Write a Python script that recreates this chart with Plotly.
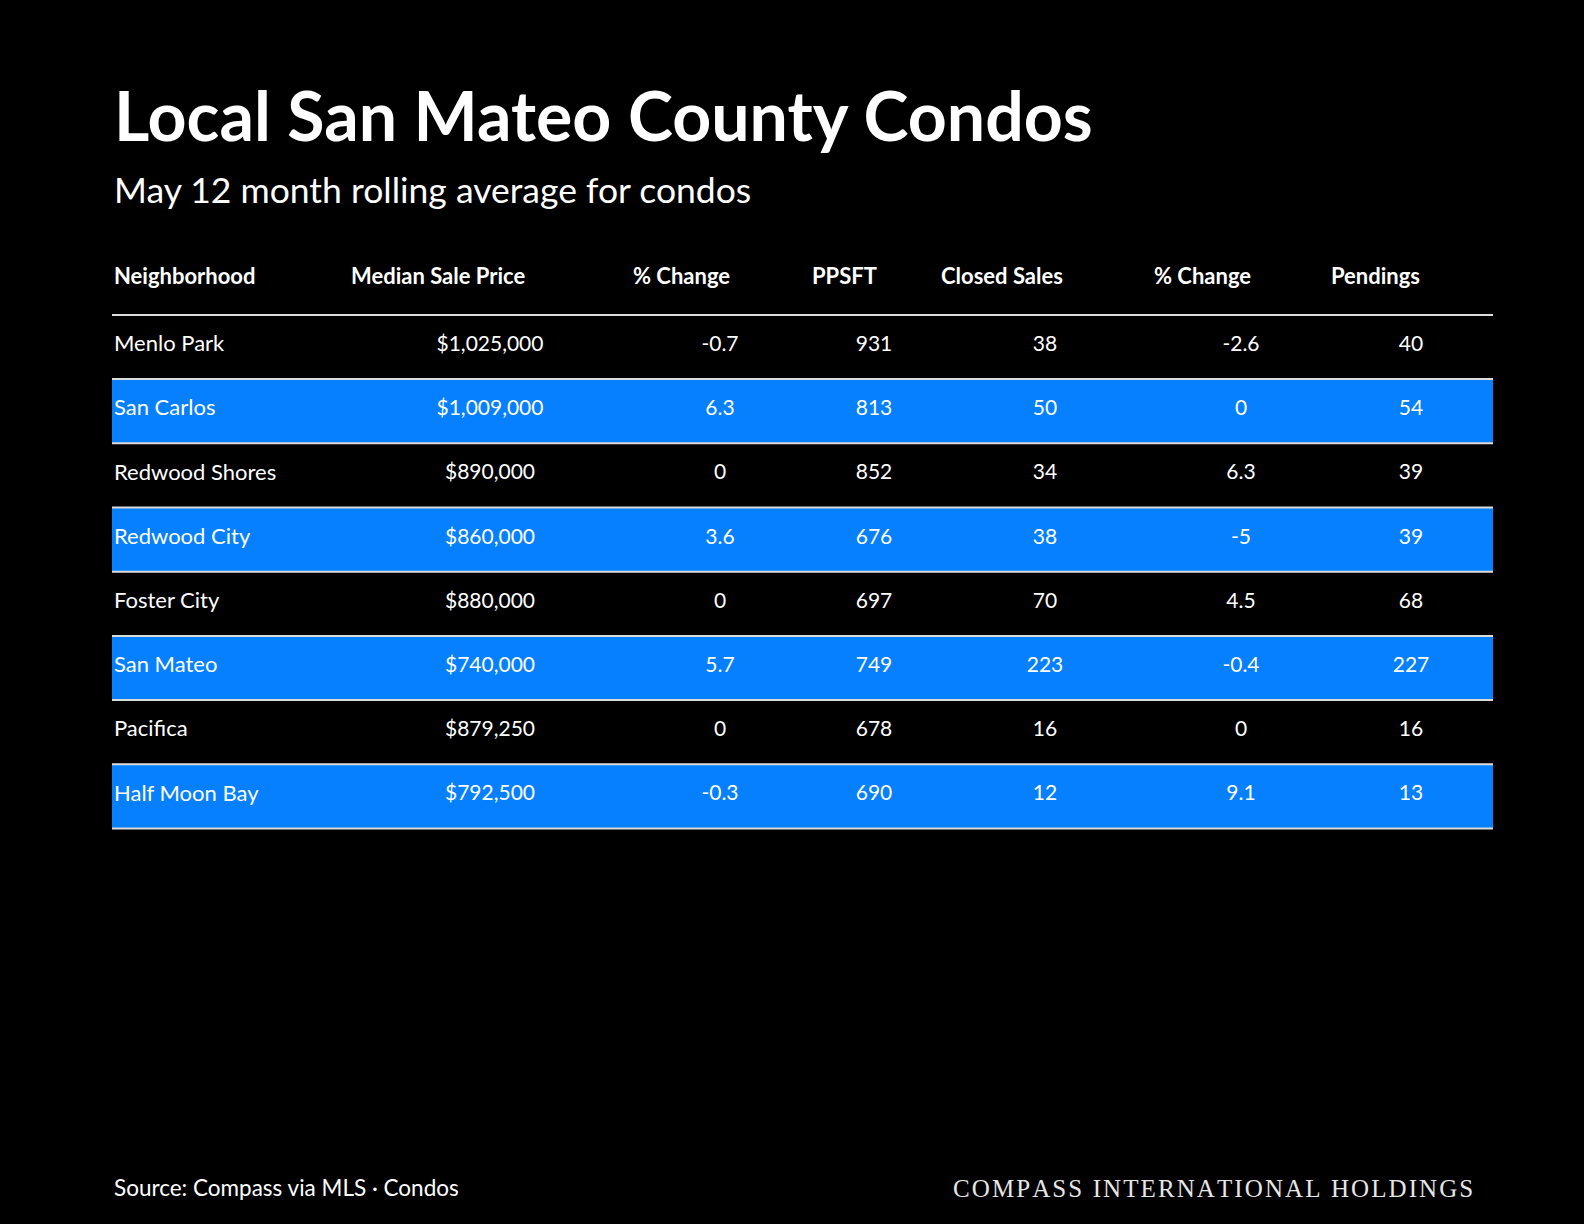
import plotly.graph_objects as go

# ---------------- data ----------------
neighborhoods = ["Menlo Park", "San Carlos", "Redwood Shores", "Redwood City",
                 "Foster City", "San Mateo", "Pacifica", "Half Moon Bay"]
median_sale_price = [1025000, 1009000, 890000, 860000, 880000, 740000, 879250, 792500]
price_pct_change = [-0.7, 6.3, 0, 3.6, 0, 5.7, 0, -0.3]
ppsft = [931, 813, 852, 676, 697, 749, 678, 690]
closed_sales = [38, 50, 34, 38, 70, 223, 16, 12]
sales_pct_change = [-2.6, 0, 6.3, -5, 4.5, -0.4, 0, 9.1]
pendings = [40, 54, 39, 39, 68, 227, 16, 13]
column_headers = ["Neighborhood", "Median Sale Price", "% Change", "PPSFT",
                  "Closed Sales", "% Change", "Pendings"]

title_text = "Local San Mateo County Condos"
subtitle_text = "May 12 month rolling average for condos"
source_text = "Source: Compass via MLS · Condos"
brand_text = "COMPASS INTERNATIONAL HOLDINGS"

# ---------------- layout constants ----------------
W, H = 1584, 1224
TABLE_LEFT, TABLE_RIGHT = 112, 1493
FIRST_ROW_CENTER = 347   # px from top
ROW_H = 64.2             # px per row
HEADER_ROW = -1.06       # header position in row units
TEXT_DY = -0.02          # small upward nudge of cell text, in row units
header_x = [114, 351, 633, 812, 941, 1154, 1331]
value_x = [114, 490, 720, 874, 1045, 1241, 1411]

BLUE = "#0680FF"
LINE = "#dcdcdc"
FONT = "Lato"
WHITE = "#ffffff"

def fmt_num(v):
    return f"{v:g}"

def spaced(s):
    # widen letter spacing with hair spaces
    return "\u200a".join(s)

columns = [
    neighborhoods,
    [f"${v:,}" for v in median_sale_price],
    [fmt_num(v) for v in price_pct_change],
    [fmt_num(v) for v in ppsft],
    [fmt_num(v) for v in closed_sales],
    [fmt_num(v) for v in sales_pct_change],
    [fmt_num(v) for v in pendings],
]
n = len(neighborhoods)
rows = list(range(n))

fig = go.Figure()

# cell text
for j, col in enumerate(columns):
    fig.add_trace(go.Scatter(
        x=[value_x[j]] * n, y=[r + TEXT_DY for r in rows], text=col, mode="text",
        textposition="middle right" if j == 0 else "middle center",
        textfont=dict(family=FONT, size=22 if j == 0 else 21, color=WHITE),
        hoverinfo="skip", showlegend=False,
    ))

# header text
fig.add_trace(go.Scatter(
    x=header_x, y=[HEADER_ROW] * len(column_headers), text=column_headers,
    mode="text", textposition="middle right",
    textfont=dict(family=FONT, size=22, color=WHITE, weight=700),
    hoverinfo="skip", showlegend=False,
))

shapes = []
for i in rows:
    if i % 2 == 1:
        shapes.append(dict(type="rect", xref="x", yref="y",
                           x0=TABLE_LEFT, x1=TABLE_RIGHT, y0=i - 0.5, y1=i + 0.5,
                           fillcolor=BLUE, line=dict(width=0), layer="below"))
for i in range(n + 1):
    shapes.append(dict(type="line", xref="x", yref="y",
                       x0=TABLE_LEFT, x1=TABLE_RIGHT, y0=i - 0.5, y1=i - 0.5,
                       line=dict(color=LINE, width=2), layer="below"))

def py(px):
    return 1 - px / H

annotations = [
    dict(text=title_text, x=TABLE_LEFT / W, y=py(114), xref="paper", yref="paper",
         xanchor="left", yanchor="middle", showarrow=False,
         font=dict(family=FONT, size=68, color=WHITE, weight=700)),
    dict(text=subtitle_text, x=TABLE_LEFT / W, y=py(189), xref="paper", yref="paper",
         xanchor="left", yanchor="middle", showarrow=False,
         font=dict(family=FONT, size=35.5, color=WHITE)),
    dict(text=source_text, x=TABLE_LEFT / W, y=py(1187), xref="paper", yref="paper",
         xanchor="left", yanchor="middle", showarrow=False,
         font=dict(family=FONT, size=22.5, color=WHITE)),
    dict(text=spaced(brand_text), x=1475 / W, y=py(1188), xref="paper", yref="paper",
         xanchor="right", yanchor="middle", showarrow=False,
         font=dict(family="Liberation Serif", size=25, color="#e6e6e6")),
]

fig.update_layout(
    width=W, height=H,
    margin=dict(l=0, r=0, t=0, b=0),
    paper_bgcolor="#000000", plot_bgcolor="#000000",
    xaxis=dict(range=[0, W], visible=False, fixedrange=True),
    yaxis=dict(range=[(H - FIRST_ROW_CENTER) / ROW_H, -FIRST_ROW_CENTER / ROW_H],
               visible=False, fixedrange=True),
    shapes=shapes, annotations=annotations,
)

fig.write_html(
    "out.html",
    config={"displayModeBar": False},
    post_script="document.body.style.margin='0';document.body.style.background='#000';"
                "document.body.style.overflow='hidden';",
)
